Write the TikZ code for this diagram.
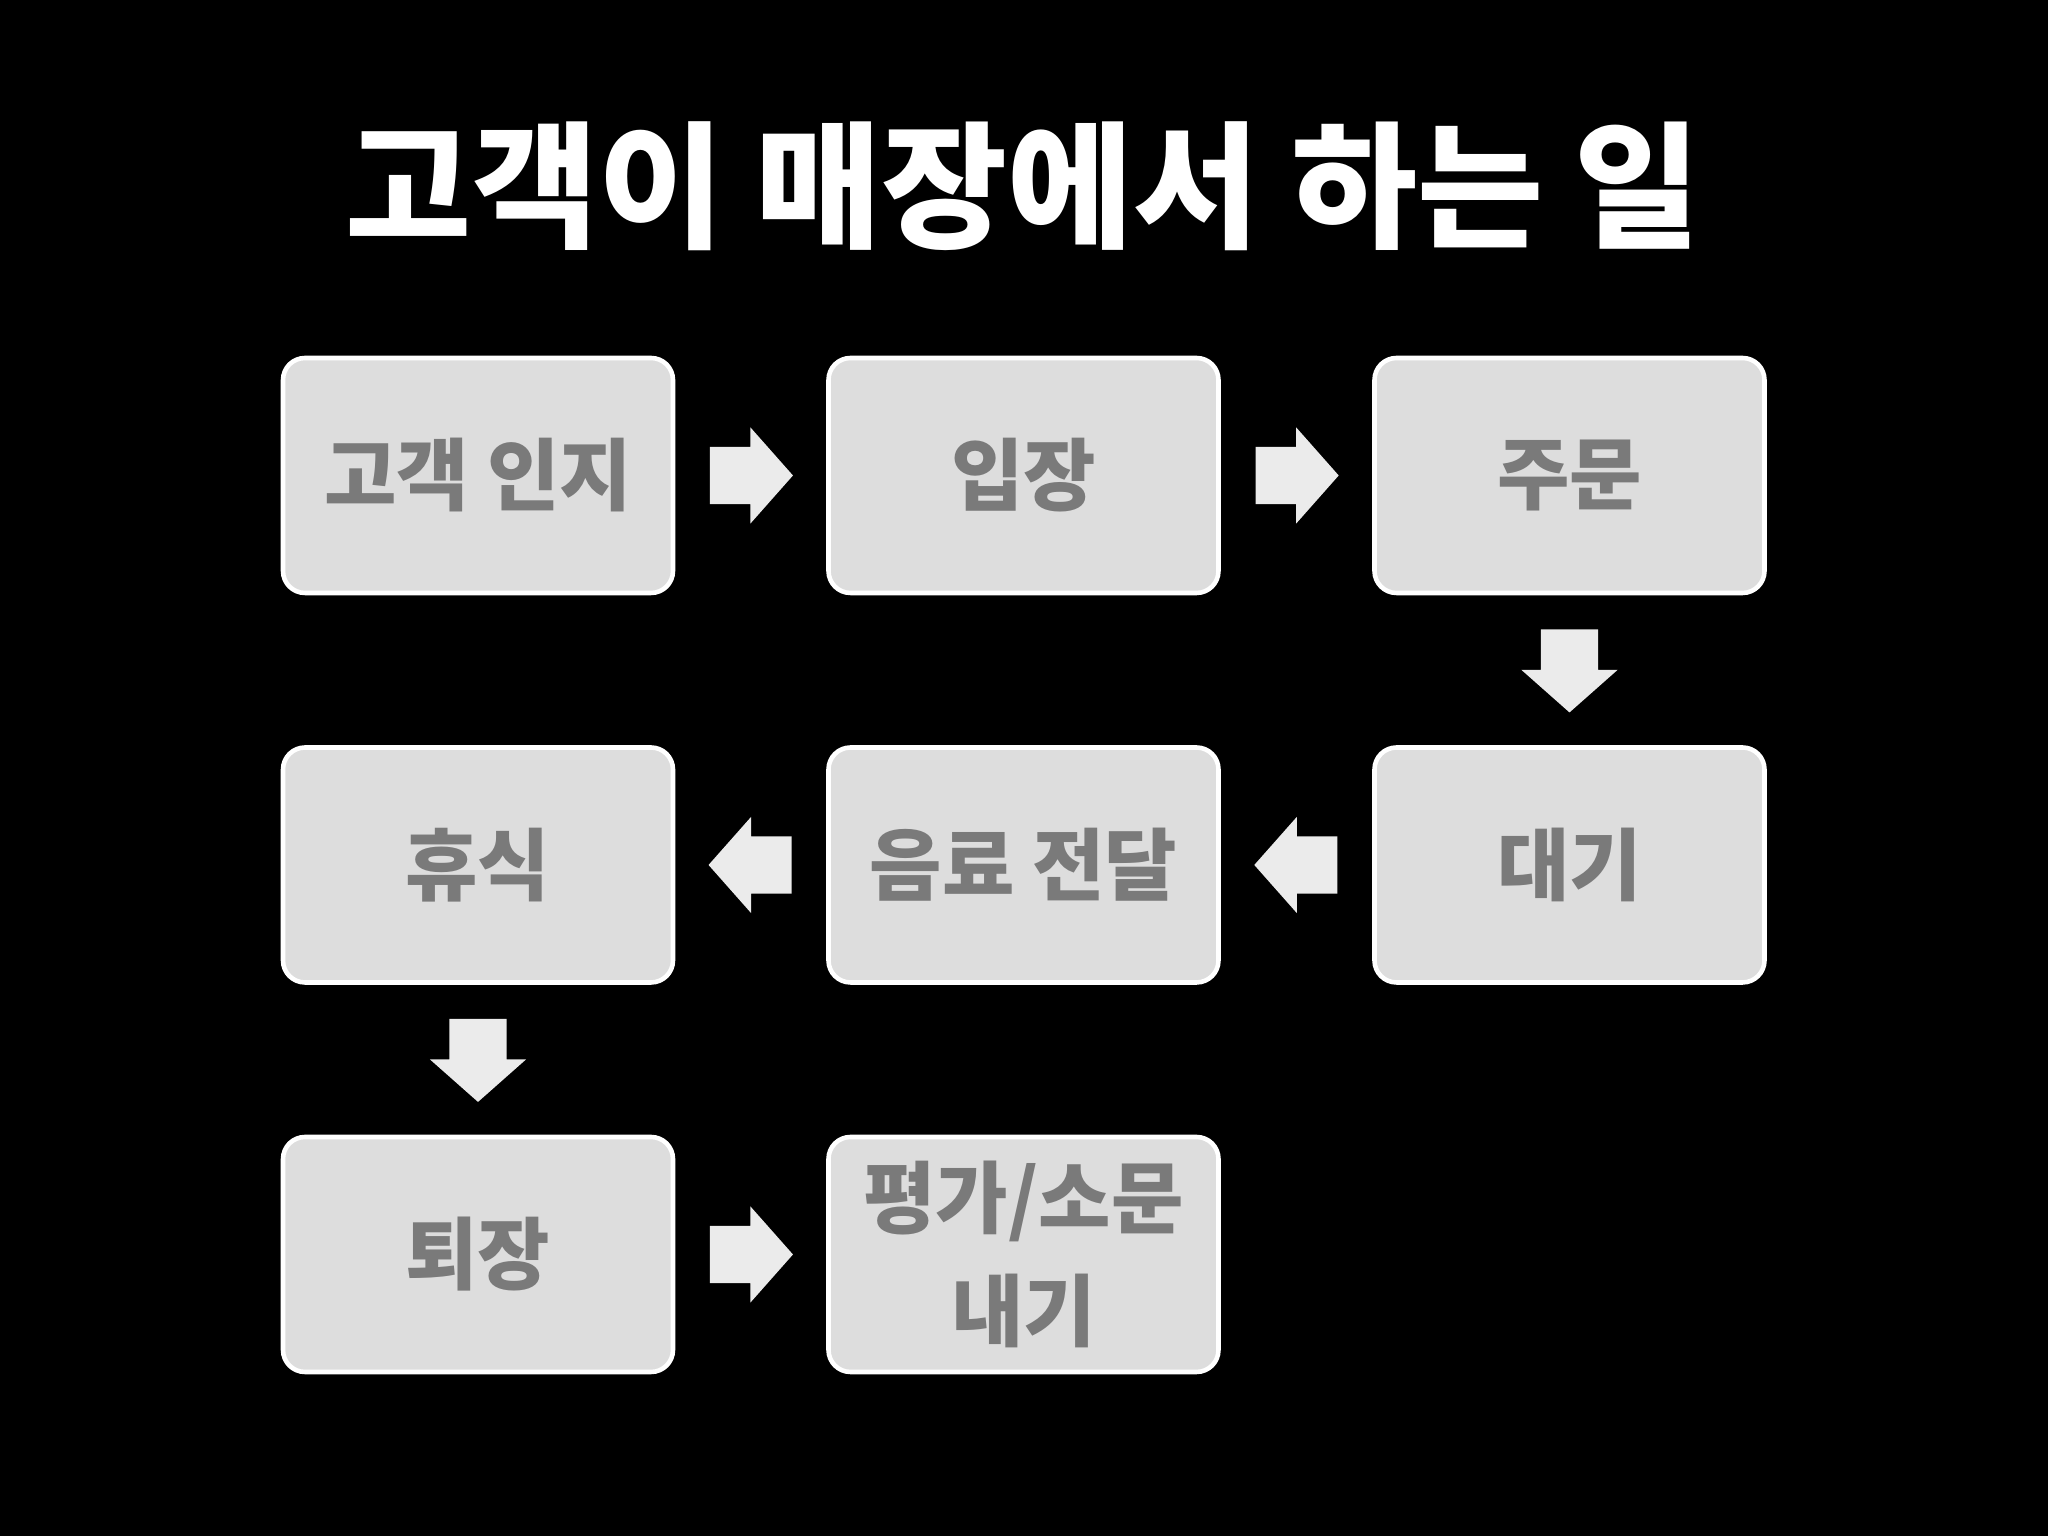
\documentclass[tikz,border=0pt]{standalone}
\usepackage{fontspec}
\setmainfont{Noto Sans CJK KR}
\usetikzlibrary{shapes.arrows, calc}
\definecolor{boxgray}{HTML}{DDDDDD}
\definecolor{textgray}{HTML}{7A7A7A}
\definecolor{arrowgray}{HTML}{EBEBEB}
\tikzset{
  stepbox/.style={draw=white, line width=1.3pt, fill=boxgray, rounded corners=0.22cm,
    minimum width=3.9cm, minimum height=2.35cm, text=textgray, align=center,
    font=\fontsize{22.4}{32}\selectfont\bfseries},
  blockarrow/.style={single arrow, fill=arrowgray, anchor=tail, inner xsep=0pt, inner ysep=0.28cm,
    minimum height=0.83cm, single arrow head extend=0.195cm, single arrow tip angle=97},
  blockdown/.style={blockarrow, shape border rotate=270, inner xsep=0.28cm, inner ysep=0pt}
}
\begin{document}
\begin{tikzpicture}
\fill [black] (0, 0) rectangle (20.48, 15.36);
\useasboundingbox (0, 0) rectangle (20.48, 15.36);
\node [text=white, font=\fontsize{39}{44}\selectfont\bfseries] (title) at (10.235, 13.5) {고객이 매장에서 하는 일};
% first row
\node [stepbox] (know) at (4.78, 10.605) {고객 인지};
\node [stepbox] (enter) at (10.235, 10.605) {입장};
\node [stepbox] (order) at (15.695, 10.605) {주문};
% second row
\node [stepbox] (rest) at (4.78, 6.71) {휴식};
\node [stepbox] (serve) at (10.235, 6.71) {음료 전달};
\node [stepbox] (wait) at (15.695, 6.71) {대기};
% third row
\node [stepbox] (leave) at (4.78, 2.815) {퇴장};
\node [stepbox] (review) at (10.235, 2.815) {평가/소문\\내기};
% arrows
\node [blockarrow] (a1) at ($(know.east)!0.5!(enter.west)+(-0.415, 0)$) {};
\node [blockarrow] (a2) at ($(enter.east)!0.5!(order.west)+(-0.415, 0)$) {};
\node [blockdown] (a3) at ($(order.south)!0.5!(wait.north)+(0, 0.415)$) {};
\node [blockarrow, shape border rotate=180] (a4) at ($(wait.west)!0.5!(serve.east)+(0.415, 0)$) {};
\node [blockarrow, shape border rotate=180] (a5) at ($(serve.west)!0.5!(rest.east)+(0.415, 0)$) {};
\node [blockdown] (a6) at ($(rest.south)!0.5!(leave.north)+(0, 0.415)$) {};
\node [blockarrow] (a7) at ($(leave.east)!0.5!(review.west)+(-0.415, 0)$) {};
\end{tikzpicture}
\end{document}
